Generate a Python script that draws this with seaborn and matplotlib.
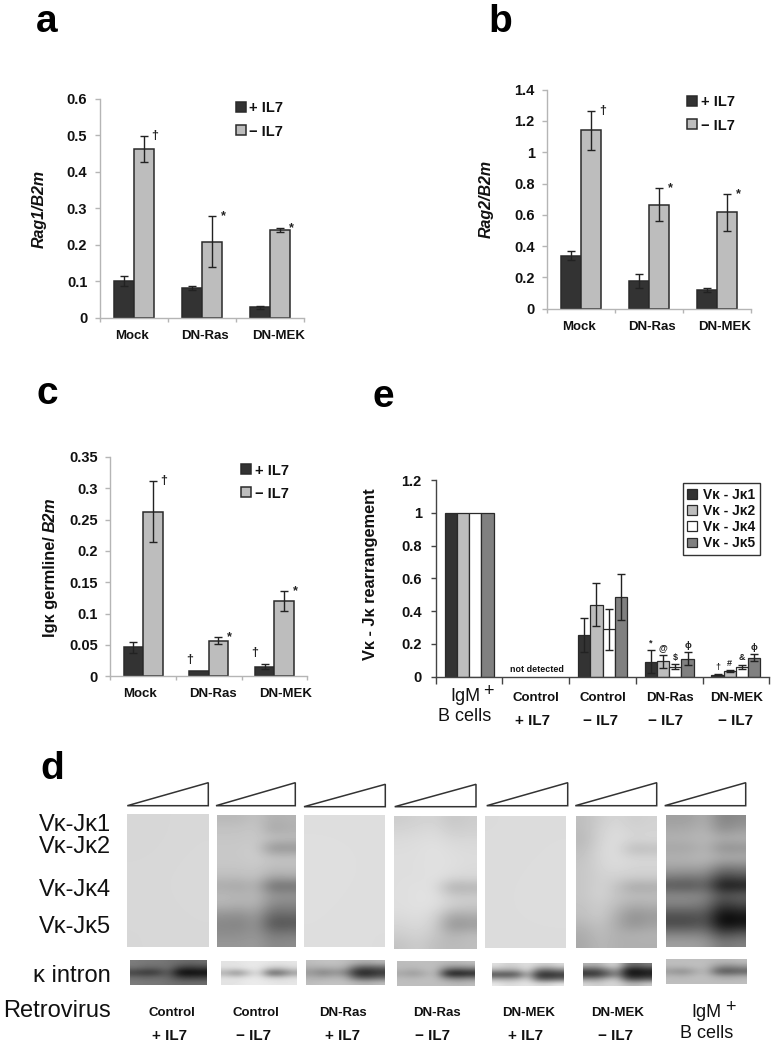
import numpy as np
import pandas as pd
import seaborn as sns
import matplotlib
matplotlib.use("Agg")
import matplotlib.pyplot as plt
from matplotlib.patches import Polygon

# bar data
groups = ["Mock", "DN-Ras", "DN-MEK"]
conds = ["+ IL7", "\u2212 IL7"]

rag1_plus = [0.1, 0.082, 0.028]
rag1_minus = [0.462, 0.208, 0.24]
rag1_plus_err = [0.013, 0.006, 0.004]
rag1_minus_err = [0.035, 0.07, 0.006]
rag1_marks = ["\u2020", "*", "*"]

rag2_plus = [0.34, 0.175, 0.12]
rag2_minus = [1.14, 0.665, 0.615]
rag2_plus_err = [0.03, 0.045, 0.012]
rag2_minus_err = [0.125, 0.105, 0.12]
rag2_marks = ["\u2020", "*", "*"]

igk_plus = [0.046, 0.009, 0.015]
igk_minus = [0.263, 0.057, 0.12]
igk_plus_err = [0.009, 0.0, 0.004]
igk_minus_err = [0.048, 0.006, 0.016]
igk_marks = ["\u2020", "*", "*"]
igk_plus_marks = ["", "\u2020", "\u2020"]

rearr_groups = ["IgM", "Control +", "Control -", "DN-Ras -", "DN-MEK -"]
rearr_series = ["V\u03ba - J\u03ba1", "V\u03ba - J\u03ba2", "V\u03ba - J\u03ba4", "V\u03ba - J\u03ba5"]
rearr_j1 = [1, 0, 0.255, 0.09, 0.012]
rearr_j2 = [1, 0, 0.44, 0.095, 0.035]
rearr_j4 = [1, 0, 0.29, 0.06, 0.06]
rearr_j5 = [1, 0, 0.485, 0.11, 0.115]
rearr_j1_err = [0, 0, 0.105, 0.07, 0.002]
rearr_j2_err = [0, 0, 0.13, 0.04, 0.005]
rearr_j4_err = [0, 0, 0.125, 0.015, 0.012]
rearr_j5_err = [0, 0, 0.14, 0.04, 0.022]
rearr_j1_marks = ["", "", "", "*", "\u2020"]
rearr_j2_marks = ["", "", "", "@", "#"]
rearr_j4_marks = ["", "", "", "$", "&"]
rearr_j5_marks = ["", "", "", "\u03d5", "\u03d5"]

# gel densities, grey level by row (top to bottom) and column
gel_ctrl_plus = [[214, 216], [216, 217], [215, 216]]
gel_ctrl_minus = [
    [185, 185, 195, 175, 180],
    [195, 195, 200, 165, 175],
    [198, 198, 200, 195, 190],
    [200, 200, 205, 140, 145],
    [200, 200, 205, 195, 195],
    [198, 198, 200, 190, 190],
    [190, 190, 195, 170, 175],
    [170, 165, 180, 105, 110],
    [185, 180, 185, 150, 150],
    [180, 175, 180, 135, 135],
    [150, 145, 160, 105, 110],
    [135, 130, 150, 80, 85],
    [140, 140, 150, 115, 120],
    [150, 150, 155, 135, 140],
]
gel_ras_plus = [[222, 222], [223, 222], [222, 221]]
gel_ras_minus = [
    [205, 210, 212, 198, 205],
    [212, 215, 218, 205, 208],
    [218, 220, 222, 215, 215],
    [220, 222, 225, 220, 218],
    [222, 222, 225, 222, 220],
    [222, 222, 225, 222, 218],
    [222, 222, 225, 215, 215],
    [222, 225, 222, 172, 178],
    [222, 225, 225, 205, 205],
    [222, 225, 222, 205, 200],
    [218, 222, 212, 165, 172],
    [212, 218, 205, 145, 155],
    [205, 212, 198, 178, 188],
    [195, 205, 190, 185, 190],
]
gel_mek_plus = [[219, 220], [220, 221], [220, 220]]
gel_mek_minus = [
    [190, 205, 215, 205, 210],
    [188, 210, 220, 210, 212],
    [185, 212, 222, 212, 215],
    [190, 215, 222, 185, 190],
    [195, 215, 220, 215, 215],
    [198, 212, 218, 212, 212],
    [198, 210, 208, 205, 205],
    [198, 212, 195, 165, 170],
    [198, 212, 195, 190, 190],
    [195, 205, 188, 170, 175],
    [192, 205, 175, 145, 155],
    [182, 195, 172, 145, 160],
    [172, 190, 175, 175, 178],
    [168, 185, 175, 175, 175],
]
gel_igm = [
    [160, 160, 175, 130, 140],
    [168, 170, 180, 140, 155],
    [178, 180, 185, 175, 178],
    [165, 165, 180, 140, 145],
    [178, 180, 185, 175, 175],
    [165, 165, 165, 125, 130],
    [130, 125, 130, 70, 85],
    [85, 80, 100, 15, 25],
    [140, 140, 135, 85, 100],
    [130, 130, 120, 55, 75],
    [85, 85, 90, 10, 25],
    [70, 70, 85, 3, 15],
    [125, 125, 125, 65, 85],
    [160, 160, 155, 120, 130],
]
gels = [gel_ctrl_plus, gel_ctrl_minus, gel_ras_plus, gel_ras_minus,
        gel_mek_plus, gel_mek_minus, gel_igm]

# kappa intron loading control blots
blot_1 = [[125, 120, 120, 115, 110, 105, 110],
          [118, 105, 105, 115, 70, 60, 70],
          [60, 45, 55, 95, 5, 3, 8],
          [110, 105, 110, 105, 65, 60, 65],
          [125, 120, 120, 115, 110, 110, 110]]
blot_2 = [[228, 228, 232, 232, 230, 228, 230],
          [222, 222, 232, 232, 200, 195, 215],
          [170, 130, 185, 225, 90, 95, 150],
          [225, 222, 232, 232, 215, 210, 225],
          [228, 228, 235, 235, 232, 230, 230]]
blot_3 = [[190, 195, 195, 190, 180, 175, 185],
          [175, 175, 180, 175, 100, 90, 100],
          [150, 125, 145, 130, 35, 30, 50],
          [175, 170, 180, 175, 90, 80, 100],
          [190, 195, 195, 195, 185, 180, 190]]
blot_4 = [[188, 190, 190, 190, 185, 185, 190],
          [185, 180, 190, 190, 130, 120, 130],
          [165, 150, 170, 190, 20, 12, 25],
          [188, 185, 190, 190, 145, 130, 145],
          [190, 190, 190, 190, 190, 185, 190]]
blot_5 = [[225, 210, 215, 225, 210, 205, 220],
          [180, 170, 175, 220, 120, 110, 135],
          [70, 65, 80, 175, 45, 38, 50],
          [175, 170, 180, 215, 95, 90, 105],
          [235, 220, 225, 230, 220, 220, 235]]
blot_6 = [[180, 175, 205, 210, 115, 105, 125],
          [85, 85, 130, 160, 30, 25, 40],
          [45, 50, 90, 130, 25, 18, 30],
          [150, 150, 185, 195, 85, 75, 90],
          [215, 205, 215, 215, 190, 185, 205]]
blot_7 = [[190, 190, 190, 190, 185, 185, 190],
          [185, 185, 190, 190, 145, 135, 150],
          [150, 135, 165, 185, 85, 80, 90],
          [185, 180, 190, 190, 170, 165, 175],
          [190, 190, 190, 190, 190, 190, 190]]
blots = [blot_1, blot_2, blot_3, blot_4, blot_5, blot_6, blot_7]

W, H = 774, 1050

sns.set_style("white")
plt.rcParams["font.family"] = ["Liberation Sans", "DejaVu Sans"]
plt.rcParams["font.weight"] = "bold"
plt.rcParams["axes.labelweight"] = "bold"
plt.rcParams["text.color"] = "#111111"
plt.rcParams["axes.labelcolor"] = "#111111"
plt.rcParams["xtick.labelcolor"] = "#111111"
plt.rcParams["ytick.labelcolor"] = "#111111"

DARK = "#333333"
LIGHT = "#bdbdbd"
MID = "#808080"

fig = plt.figure(figsize=(W / 100, H / 100), dpi=100, facecolor="white")


def ax_px(left, top, right, bottom):
    return fig.add_axes([left / W, 1 - bottom / H, (right - left) / W, (bottom - top) / H])


def long_table(group_names, series_names, columns):
    rows = []
    for name, col in zip(series_names, columns):
        for g, v in zip(group_names, col):
            rows.append({"group": g, "series": name, "value": v})
    return pd.DataFrame(rows)


def bars(ax, group_names, series_names, columns, errors, colors, width, lw=1.0):
    df = long_table(group_names, series_names, columns)
    sns.barplot(data=df, x="group", y="value", hue="series", order=group_names,
                hue_order=series_names, palette=colors, width=width, gap=0,
                edgecolor="#2a2a2a", linewidth=lw, errorbar=None, saturation=1, ax=ax)
    for cont, err in zip(ax.containers, errors):
        for patch, e in zip(cont, err):
            if patch.get_height() == 0:
                patch.set_linewidth(0)
            if e > 0:
                ax.errorbar(patch.get_x() + patch.get_width() / 2, patch.get_height(), yerr=e,
                            color="#222222", lw=1.0, capsize=3, capthick=1.0, zorder=5)


def mark(ax, patch, err, text, dx, dy, size=9):
    x = patch.get_x() + patch.get_width() / 2
    ax.annotate(text, (x, patch.get_height() + err), xytext=(dx, dy),
                textcoords="offset points", ha="center", va="center", fontsize=size, color="#222222")


def style_axes(ax, ymax, yticks, ylabels, n_groups, spine="#b5b5b5", pad=5.5):
    sns.despine(ax=ax)
    ax.set_ylim(0, ymax)
    ax.set_xlim(-0.5, n_groups - 0.5)
    ax.set_yticks(yticks, ylabels)
    ax.set_xticks(np.arange(n_groups + 1) - 0.5, [""] * (n_groups + 1))
    ax.set_xlabel("")
    ax.set_ylabel("")
    ax.tick_params(axis="y", length=3.6, width=1, color=spine, labelsize=10.5, pad=pad, left=True)
    ax.tick_params(axis="x", which="major", length=3, width=1, color=spine, bottom=True)
    for side in ["left", "bottom"]:
        ax.spines[side].set_color(spine)
        ax.spines[side].set_linewidth(1)


def small_panel(box, plus, minus, plus_err, minus_err, marks, ymax, yticks, ylabels, label_pos, legend_xy):
    ax = ax_px(*box)
    bars(ax, groups, conds, [plus, minus], [plus_err, minus_err], [DARK, LIGHT], 0.59, lw=1.1)
    style_axes(ax, ymax, yticks, ylabels, len(groups))
    ax.set_xticks(label_pos, groups, minor=True)
    ax.tick_params(axis="x", which="minor", length=0, labelsize=9.5, pad=8.5)
    for patch, err, m in zip(ax.containers[1], minus_err, marks):
        mark(ax, patch, err, m, 8, 0)
    sns.move_legend(ax, "upper left", bbox_to_anchor=(legend_xy[0] / W, 1 - legend_xy[1] / H),
                    bbox_transform=fig.transFigure, frameon=False, title=None, fontsize=10.5,
                    borderpad=0, borderaxespad=0, handlelength=0.68, handleheight=0.68,
                    handletextpad=0.25, labelspacing=0.62)
    return ax


ax_a = small_panel((100, 98.7, 304, 317.7), rag1_plus, rag1_minus, rag1_plus_err, rag1_minus_err, rag1_marks,
                   0.6, [0, 0.1, 0.2, 0.3, 0.4, 0.5, 0.6], ["0", "0.1", "0.2", "0.3", "0.4", "0.5", "0.6"],
                   [-0.034, 1.04, 2.12], (235.7, 101.5))
ax_a.set_ylabel("Rag1/B2m", style="italic", fontsize=11.5)
ax_a.yaxis.set_label_coords(46.7 / W, 1 - 209 / H, transform=fig.transFigure)

ax_b = small_panel((547.3, 89.7, 751.3, 308.7), rag2_plus, rag2_minus, rag2_plus_err, rag2_minus_err, rag2_marks,
                   1.4, [0, 0.2, 0.4, 0.6, 0.8, 1, 1.2, 1.4], ["0", "0.2", "0.4", "0.6", "0.8", "1", "1.2", "1.4"],
                   [-0.03, 1.04, 2.11], (687, 95.5))
ax_b.set_ylabel("Rag2/B2m", style="italic", fontsize=11.5)
ax_b.yaxis.set_label_coords(494 / W, 1 - 199 / H, transform=fig.transFigure)

ax_c = small_panel((110.3, 457, 307.3, 676.3), igk_plus, igk_minus, igk_plus_err, igk_minus_err, igk_marks,
                   0.35, [0, 0.05, 0.1, 0.15, 0.2, 0.25, 0.3, 0.35],
                   ["0", "0.05", "0.1", "0.15", "0.2", "0.25", "0.3", "0.35"],
                   [-0.048, 1.06, 2.175], (241, 463.5))
for patch, err, m in zip(ax_c.containers[0], igk_plus_err, igk_plus_marks):
    if m:
        mark(ax_c, patch, err, m, -7, 8)

# panel e
ax_e = ax_px(435.7, 480, 769.3, 676.7)
bars(ax_e, rearr_groups, rearr_series, [rearr_j1, rearr_j2, rearr_j4, rearr_j5],
     [rearr_j1_err, rearr_j2_err, rearr_j4_err, rearr_j5_err], [DARK, LIGHT, "white", MID], 0.735, lw=0.9)
style_axes(ax_e, 1.2, [0, 0.2, 0.4, 0.6, 0.8, 1, 1.2], ["0", "0.2", "0.4", "0.6", "0.8", "1", "1.2"],
           len(rearr_groups), spine="#444444", pad=6.5)
ax_e.tick_params(axis="x", which="major", length=5)
ax_e.set_ylabel("V\u03ba - J\u03ba rearrangement", fontsize=11.8)
ax_e.yaxis.set_label_coords(378 / W, 1 - 574 / H, transform=fig.transFigure)
for cont, err_col, mark_col in zip(ax_e.containers,
                                   [rearr_j1_err, rearr_j2_err, rearr_j4_err, rearr_j5_err],
                                   [rearr_j1_marks, rearr_j2_marks, rearr_j4_marks, rearr_j5_marks]):
    for patch, err, m in zip(cont, err_col, mark_col):
        if m:
            mark(ax_e, patch, err, m, 0, 5, size=6.5)
sns.move_legend(ax_e, "upper left", bbox_to_anchor=(682.7 / W, 1 - 483.3 / H),
                bbox_transform=fig.transFigure, frameon=True, fancybox=False, edgecolor="#333333",
                framealpha=1, title=None, fontsize=9.9, borderpad=0.32, borderaxespad=0,
                handlelength=0.73, handleheight=0.73, handletextpad=0.44, labelspacing=0.16)

# everything placed by pixel goes on one overlay
ov = fig.add_axes([0, 0, 1, 1], facecolor="none", zorder=10)
ov.axis("off")

# gels, triangles and blots
gel_boxes = [(127.3, 208.3, 814, 946.7), (216.7, 295, 815, 946.7), (304, 385, 816, 947.3),
             (394, 476.3, 816, 948.7), (485.3, 566.3, 816, 948), (576, 656.7, 816, 948),
             (666, 746, 816, 947.3)]
blot_boxes = [(130, 206.7, 960, 985), (220.7, 296, 961.7, 985.3), (305.7, 384, 960.3, 985.3),
              (396.7, 474.7, 961, 985.7), (491.7, 562.7, 963.3, 985.7), (583.3, 651.7, 963.3, 986),
              (666, 746.3, 960, 984.3)]
tri_boxes = [(127.3, 208.3, 782.7, 805.7), (216, 295.3, 782.7, 805.7), (304, 385.3, 784.3, 806.7),
             (394.7, 476, 784.3, 806.7), (486.7, 567.7, 782.7, 805.7), (575.3, 656.7, 782.7, 805.7),
             (664.7, 745.7, 782.7, 805.7)]
for arr, (l, r, t, b) in list(zip(gels, gel_boxes)) + list(zip(blots, blot_boxes)):
    ov.imshow(np.array(arr), cmap="gray", vmin=0, vmax=255, extent=(l, r, b, t), aspect="auto",
              interpolation="bicubic", origin="upper")
for l, r, t, b in tri_boxes:
    ov.add_patch(Polygon([(l, b), (r, t), (r, b)], closed=True, fill=False, edgecolor="#333333", lw=1.1))
ov.set_xlim(0, W)
ov.set_ylim(H, 0)


def txt(x, y, s, size=9.5, ha="center", va="baseline", weight="bold", **kw):
    ov.text(x, y, s, fontsize=size, ha=ha, va=va, fontweight=weight, color=kw.pop("color", "#111111"), **kw)


# panel letters
for x, y, s in [(36, 31.7, "a"), (488, 32, "b"), (37, 404, "c"), (40, 779, "d"), (373, 407, "e")]:
    txt(x, y, s, size=28, ha="left", color="black")

# c y label has an italic part
txt(50, 637, "Ig\u03ba germline/", size=11.8, ha="left", va="center", rotation=90, rotation_mode="anchor")
txt(50, 532, "B2m", size=11.5, ha="left", va="center", rotation=90, style="italic", rotation_mode="anchor")

# panel e group labels
txt(536.7, 672.5, "not detected", size=6.4)
for x, y, s in [(535.7, 701, "Control"), (602.7, 701, "Control"), (670, 701, "DN-Ras"), (736.7, 701, "DN-MEK")]:
    txt(x, y, s)
for x, y, s in [(532.7, 725, "+ IL7"), (600.7, 725, "\u2212 IL7"), (666, 725, "\u2212 IL7"), (735, 725, "\u2212 IL7")]:
    txt(x, y, s, size=11)
txt(450, 701, "IgM", size=13, ha="left", weight="normal")
txt(483, 696, "+", size=13, ha="left", weight="normal")
txt(438, 721, "B cells", size=13, ha="left", weight="normal")

# panel d labels
for y, s in [(830.7, "V\u03ba-J\u03ba1"), (853.3, "V\u03ba-J\u03ba2"), (896, "V\u03ba-J\u03ba4"),
             (932.7, "V\u03ba-J\u03ba5"), (981.7, "\u03ba intron"), (1017, "Retrovirus")]:
    txt(111, y, s, size=17, ha="right", weight="normal")
for x, s in [(171.7, "Control"), (255.7, "Control"), (343.3, "DN-Ras"), (437.3, "DN-Ras"),
             (529, "DN-MEK"), (617.7, "DN-MEK")]:
    txt(x, 1016, s)
for x, s in [(169.3, "+ IL7"), (253, "\u2212 IL7"), (342.3, "+ IL7"), (432.7, "\u2212 IL7"),
             (525, "+ IL7"), (616, "\u2212 IL7")]:
    txt(x, 1040, s, size=11)
txt(691.7, 1017, "IgM", size=13, ha="left", weight="normal")
txt(725, 1012, "+", size=13, ha="left", weight="normal")
txt(680, 1037.7, "B cells", size=13, ha="left", weight="normal")

fig.savefig("out.png", dpi=100)
